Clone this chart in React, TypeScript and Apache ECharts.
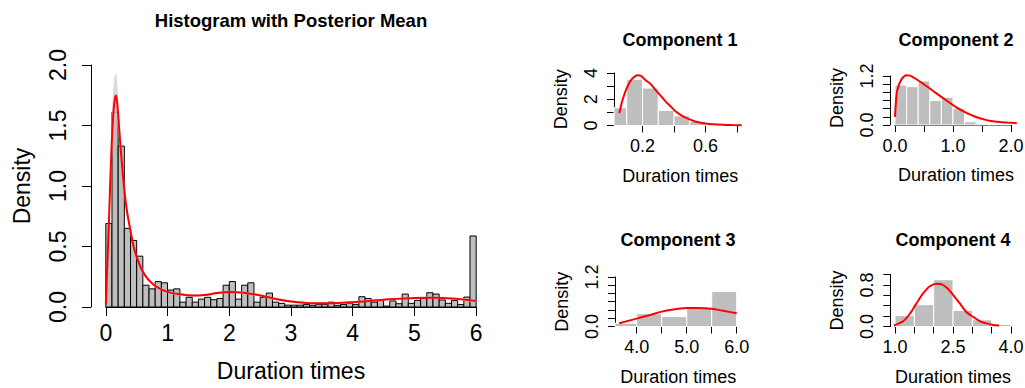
import React, { useEffect, useRef } from "react";
import * as echarts from "echarts";

const FONT = '"Liberation Sans", Arial, Helvetica, sans-serif';

// ---------- Main histogram data ----------
const mainBinStart = 0;
const mainBinWidth = 0.1;
const mainDensity = [
  0.69, 1.61, 1.33, 0.65, 0.55, 0.42, 0.18, 0.15, 0.21, 0.2,
  0.14, 0.15, 0.04, 0.08, 0.04, 0.065, 0.08, 0.06, 0.07, 0.18,
  0.21, 0.065, 0.18, 0.2, 0.04, 0.08, 0.115, 0.04, 0.03, 0.015,
  0.015, 0.015, 0.02, 0.014, 0.02, 0.02, 0.04, 0.014, 0.02, 0.03,
  0.02, 0.085, 0.07, 0.04, 0.055, 0.008, 0.05, 0.027, 0.107, 0.03,
  0.055, 0.07, 0.118, 0.107, 0.058, 0.03, 0.055, 0.02, 0.082, 0.587,
];
const meanX = [
  0, 0.025, 0.05, 0.08, 0.11, 0.14, 0.165, 0.19, 0.22, 0.25, 0.29, 0.34, 0.4,
  0.45, 0.51, 0.59, 0.7, 0.83, 1.0, 1.2, 1.4, 1.6, 1.8, 2.0, 2.2, 2.4, 2.6,
  2.8, 3.0, 3.3, 3.6, 4.0, 4.5, 5.0, 5.3, 5.6, 6.0,
];
const meanY = [
  0.02, 0.36, 0.7, 1.15, 1.5, 1.7, 1.75, 1.65, 1.45, 1.25, 1.02, 0.8, 0.63,
  0.5, 0.4, 0.3, 0.22, 0.165, 0.125, 0.105, 0.095, 0.1, 0.115, 0.125, 0.12,
  0.105, 0.085, 0.062, 0.045, 0.032, 0.03, 0.04, 0.06, 0.075, 0.076, 0.07, 0.05,
];
const bandHigh = [
  0.03, 0.42, 0.8, 1.3, 1.72, 1.9, 1.93, 1.82, 1.58, 1.35, 1.09, 0.86, 0.67,
  0.53, 0.42, 0.32, 0.235, 0.178, 0.135, 0.115, 0.105, 0.11, 0.125, 0.135,
  0.13, 0.115, 0.095, 0.072, 0.055, 0.041, 0.038, 0.048, 0.068, 0.083, 0.084,
  0.078, 0.06,
];
const bandLow = [
  0.01, 0.3, 0.6, 1.0, 1.3, 1.52, 1.58, 1.5, 1.34, 1.16, 0.96, 0.75, 0.59,
  0.47, 0.38, 0.28, 0.205, 0.152, 0.115, 0.095, 0.085, 0.09, 0.105, 0.115,
  0.11, 0.095, 0.075, 0.052, 0.035, 0.024, 0.022, 0.032, 0.052, 0.067, 0.068,
  0.062, 0.04,
];
const mainXTicks = [0, 1, 2, 3, 4, 5, 6];
const mainXLabels = [0, 1, 2, 3, 4, 5, 6];
const mainYTicks = [0, 0.5, 1.0, 1.5, 2.0];
const mainYLabels = [0, 0.5, 1.0, 1.5, 2.0];

// ---------- Component 1 ----------
const c1BinStart = 0;
const c1BinWidth = 0.1;
const c1Density = [1.35, 3.49, 2.85, 1.15, 0.74, 0.33, 0.1, 0.03, 0.01];
const c1X = [0.053, 0.07, 0.09, 0.11, 0.13, 0.15, 0.17, 0.19, 0.22, 0.25, 0.285, 0.32, 0.35, 0.385, 0.415, 0.45, 0.48, 0.54, 0.6, 0.65, 0.71, 0.77, 0.83];
const c1Y = [0.94, 1.8, 2.54, 3.1, 3.49, 3.72, 3.82, 3.78, 3.44, 3.18, 2.67, 2.2, 1.78, 1.38, 1.02, 0.75, 0.56, 0.28, 0.15, 0.09, 0.05, 0.03, 0.02];
const c1XTicks = [0.2, 0.4, 0.6, 0.8];
const c1XLabels = [0.2, 0.6];
const c1YTicks = [0, 1, 2, 3, 4];
const c1YLabels = [0, 2, 4];

// ---------- Component 2 ----------
const c2BinStart = 0;
const c2BinWidth = 0.2;
const c2Density = [0.98, 0.94, 1.08, 0.6, 0.68, 0.41, 0.08, 0.025, 0.01, 0.01];
const c2X = [0.0, 0.03, 0.06, 0.09, 0.14, 0.2, 0.26, 0.37, 0.54, 0.71, 0.89, 1.06, 1.24, 1.41, 1.58, 1.75, 1.93, 2.1];
const c2Y = [0.2, 0.78, 0.95, 1.06, 1.17, 1.22, 1.21, 1.12, 0.955, 0.78, 0.6, 0.43, 0.29, 0.19, 0.12, 0.08, 0.06, 0.045];
const c2XTicks = [0, 0.5, 1.0, 1.5, 2.0];
const c2XLabels = [0, 1.0, 2.0];
const c2YTicks = [0, 0.2, 0.4, 0.6, 0.8, 1.0, 1.2];
const c2YLabels = [0, 1.2];

// ---------- Component 3 ----------
const c3BinStart = 3.5;
const c3BinWidth = 0.5;
const c3Density = [0.08, 0.31, 0.24, 0.45, 0.85];
const c3X = [3.65, 4.0, 4.27, 4.5, 4.73, 5.0, 5.2, 5.5, 5.73, 6.0];
const c3Y = [0.08, 0.19, 0.28, 0.36, 0.41, 0.445, 0.45, 0.43, 0.38, 0.32];
const c3XTicks = [4.0, 4.5, 5.0, 5.5, 6.0];
const c3XLabels = [4.0, 5.0, 6.0];
const c3YTicks = [0, 0.2, 0.4, 0.6, 0.8, 1.0, 1.2];
const c3YLabels = [0, 1.2];

// ---------- Component 4 ----------
const c4BinStart = 1.0;
const c4BinWidth = 0.5;
const c4Density = [0.21, 0.42, 0.9, 0.31, 0.13, 0.04];
const c4X = [0.97, 1.21, 1.38, 1.55, 1.73, 1.9, 2.08, 2.21, 2.34, 2.51, 2.68, 2.85, 3.03, 3.2, 3.37, 3.55, 3.69];
const c4Y = [0.02, 0.1, 0.24, 0.44, 0.64, 0.775, 0.82, 0.81, 0.745, 0.6, 0.44, 0.275, 0.18, 0.1, 0.06, 0.03, 0.02];
const c4XTicks = [1.0, 1.5, 2.0, 2.5, 3.0, 3.5, 4.0];
const c4XLabels = [1.0, 2.5, 4.0];
const c4YTicks = [0, 0.2, 0.4, 0.6, 0.8, 1.0];
const c4YLabels = [0, 0.8];

const titles = ["Histogram with Posterior Mean", "Component 1", "Component 2", "Component 3", "Component 4"];
const xName = "Duration times";
const yName = "Density";

type PanelData = {
  binStart: number; binWidth: number; density: number[];
  curveX: number[]; curveY: number[];
  xTicks: number[]; xLabels: number[]; yTicks: number[]; yLabels: number[];
  xDigits: number; yDigits: number; title: string;
  band?: { low: number[]; high: number[] };
};
type Layout = {
  left: number; right: number; xMin: number; xMax: number;
  y0: number; yPerUnit: number; yTop: number;
  tickFont: number; nameFont: number; tickLen: number;
  xLabelMargin: number; yLabelMargin: number; xNameGap: number; yNameGap: number;
  titleX: number; titleY: number; titleFont: number;
  barFill: string; barStroke: string; lineWidth: number;
};

const mainLayout: Layout = {
  left: 91, right: 491, xMin: -0.24, xMax: 6.24, y0: 307, yPerUnit: 121, yTop: 2.0,
  tickFont: 23, nameFont: 23, tickLen: 9, xLabelMargin: 26, yLabelMargin: 33,
  xNameGap: 64, yNameGap: 69, titleX: 291, titleY: 20, titleFont: 18.5,
  barFill: "#bebebe", barStroke: "#000000", lineWidth: 2,
};
const compBase = {
  tickFont: 18, nameFont: 18, tickLen: 7, xLabelMargin: 20.5, yLabelMargin: 23,
  xNameGap: 50, yNameGap: 53, titleFont: 18, barFill: "#bebebe", barStroke: "#ffffff", lineWidth: 2,
};
const c1Layout: Layout = { ...compBase, left: 614, right: 746.6, xMin: 0.019, xMax: 0.861, y0: 125.5, yPerUnit: 13.15, yTop: 4, titleX: 680, titleY: 40 };
const c2Layout: Layout = { ...compBase, left: 890, right: 1022, xMin: -0.086, xMax: 2.19, y0: 125, yPerUnit: 40.83, yTop: 1.32, titleX: 956, titleY: 40 };
const c3Layout: Layout = { ...compBase, left: 615, right: 741.4, xMin: 3.567, xMax: 6.094, y0: 326.5, yPerUnit: 41.3, yTop: 1.2, titleX: 678, titleY: 240 };
const c4Layout: Layout = { ...compBase, left: 890.4, right: 1015.7, xMin: 0.88, xMax: 4.12, y0: 326.5, yPerUnit: 52, yTop: 1.0, titleX: 953, titleY: 240 };

function buildOption() {
  const grids: any[] = [];
  const xAxes: any[] = [];
  const yAxes: any[] = [];
  const series: any[] = [];
  const graphics: any[] = [];

  const addPanel = (L: Layout, d: PanelData) => {
    const pxX = (v: number) => L.left + ((v - L.xMin) / (L.xMax - L.xMin)) * (L.right - L.left);
    const pxY = (v: number) => L.y0 - v * L.yPerUnit;
    const g = grids.length;
    const top = pxY(L.yTop);
    const h = L.yTop * L.yPerUnit;
    grids.push({ left: L.left, top, width: L.right - L.left, height: h, outerBoundsMode: "none" });
    const xa = pxX(d.xTicks[0]);
    const xb = pxX(d.xTicks[d.xTicks.length - 1]);
    grids.push({ left: xa, top, width: xb - xa, height: h, outerBoundsMode: "none" });
    const yTopTick = d.yTicks[d.yTicks.length - 1];
    grids.push({ left: L.left, top: pxY(yTopTick), width: L.right - L.left, height: yTopTick * L.yPerUnit, outerBoundsMode: "none" });

    const xi = xAxes.length;
    const yi = yAxes.length;
    const nameStyle = { fontFamily: FONT, fontSize: L.nameFont, color: "#000", align: "center", verticalAlign: "middle" };
    xAxes.push({
      type: "value", gridIndex: g, min: L.xMin, max: L.xMax,
      axisLine: { show: false }, axisTick: { show: false }, axisLabel: { show: false }, splitLine: { show: false },
      name: xName, nameLocation: "middle", nameGap: L.xNameGap, nameTextStyle: nameStyle,
    });
    yAxes.push({
      type: "value", gridIndex: g, min: 0, max: L.yTop,
      axisLine: { show: false }, axisTick: { show: false }, axisLabel: { show: false }, splitLine: { show: false },
      name: yName, nameLocation: "middle", nameGap: L.yNameGap, nameTextStyle: nameStyle,
    });
    const near = (v: number, arr: number[]) => arr.some((a) => Math.abs(a - v) < 1e-6);
    xAxes.push({
      type: "value", gridIndex: g + 1, position: "bottom",
      min: d.xTicks[0], max: d.xTicks[d.xTicks.length - 1], interval: d.xTicks[1] - d.xTicks[0],
      axisLine: { show: true, onZero: false, lineStyle: { color: "#000", width: 1 } },
      axisTick: { show: true, length: L.tickLen, lineStyle: { color: "#000", width: 1 } },
      axisLabel: {
        show: true, margin: L.xLabelMargin, fontFamily: FONT, fontSize: L.tickFont, color: "#000",
        verticalAlign: "middle", align: "center", showMinLabel: true, showMaxLabel: true,
        formatter: (v: number) => (near(v, d.xLabels) ? v.toFixed(d.xDigits) : ""),
      },
      splitLine: { show: false },
    });
    yAxes.push({ type: "value", gridIndex: g + 1, min: 0, max: 1, show: false });
    xAxes.push({ type: "value", gridIndex: g + 2, min: 0, max: 1, show: false });
    yAxes.push({
      type: "value", gridIndex: g + 2, position: "left",
      min: d.yTicks[0], max: yTopTick, interval: d.yTicks[1] - d.yTicks[0],
      axisLine: { show: true, onZero: false, lineStyle: { color: "#000", width: 1 } },
      axisTick: { show: true, length: L.tickLen, lineStyle: { color: "#000", width: 1 } },
      axisLabel: {
        show: true, margin: L.yLabelMargin, rotate: 90, fontFamily: FONT, fontSize: L.tickFont, color: "#000",
        align: "center", verticalAlign: "middle", showMinLabel: true, showMaxLabel: true,
        formatter: (v: number) => (near(v, d.yLabels) ? v.toFixed(d.yDigits) : ""),
      },
      splitLine: { show: false },
    });

    // histogram bars
    series.push({
      type: "custom", xAxisIndex: xi, yAxisIndex: yi, silent: true, z: 2,
      data: d.density.map((v, i) => [d.binStart + i * d.binWidth, d.binStart + (i + 1) * d.binWidth, v]),
      encode: { x: [0, 1], y: 2 },
      renderItem: (params: any, api: any) => {
        const p0 = api.coord([api.value(0), api.value(2)]);
        const p1 = api.coord([api.value(1), 0]);
        const cs = params.coordSys;
        const shape = echarts.graphic.clipRectByRect(
          { x: p0[0], y: p0[1], width: p1[0] - p0[0], height: p1[1] - p0[1] },
          { x: cs.x, y: cs.y, width: cs.width, height: cs.height }
        );
        if (!shape) return null;
        return { type: "rect", shape, style: { fill: L.barFill, stroke: L.barStroke, lineWidth: 1 } };
      },
    });
    if (d.band) {
      const band = d.band;
      series.push({
        type: "custom", xAxisIndex: xi, yAxisIndex: yi, silent: true, z: 3,
        data: [[d.curveX[0], band.low[0]]],
        renderItem: (_params: any, api: any) => {
          const upper = d.curveX.map((x, i) => api.coord([x, band.high[i]]));
          const lower = d.curveX.map((x, i) => api.coord([x, band.low[i]])).reverse();
          return {
            type: "polygon",
            shape: { points: upper.concat(lower), smooth: 0.25 },
            style: { fill: "rgba(205,205,205,0.75)", stroke: "none" },
          };
        },
      });
    }
    series.push({
      type: "line", xAxisIndex: xi, yAxisIndex: yi, symbol: "none", silent: true, z: 4,
      smooth: 0.3, lineStyle: { color: "#ff0000", width: L.lineWidth },
      data: d.curveX.map((x, i) => [x, d.curveY[i]]),
    });

    graphics.push({
      type: "text", x: L.titleX, y: L.titleY, silent: true,
      style: {
        text: d.title, fill: "#000", fontFamily: FONT, fontWeight: "bold", fontSize: L.titleFont,
        align: "center", verticalAlign: "middle",
      },
    });
  };

  addPanel(mainLayout, {
    binStart: mainBinStart, binWidth: mainBinWidth, density: mainDensity,
    curveX: meanX, curveY: meanY, band: { low: bandLow, high: bandHigh },
    xTicks: mainXTicks, xLabels: mainXLabels, yTicks: mainYTicks, yLabels: mainYLabels,
    xDigits: 0, yDigits: 1, title: titles[0],
  });
  addPanel(c1Layout, {
    binStart: c1BinStart, binWidth: c1BinWidth, density: c1Density, curveX: c1X, curveY: c1Y,
    xTicks: c1XTicks, xLabels: c1XLabels, yTicks: c1YTicks, yLabels: c1YLabels, xDigits: 1, yDigits: 0, title: titles[1],
  });
  addPanel(c2Layout, {
    binStart: c2BinStart, binWidth: c2BinWidth, density: c2Density, curveX: c2X, curveY: c2Y,
    xTicks: c2XTicks, xLabels: c2XLabels, yTicks: c2YTicks, yLabels: c2YLabels, xDigits: 1, yDigits: 1, title: titles[2],
  });
  addPanel(c3Layout, {
    binStart: c3BinStart, binWidth: c3BinWidth, density: c3Density, curveX: c3X, curveY: c3Y,
    xTicks: c3XTicks, xLabels: c3XLabels, yTicks: c3YTicks, yLabels: c3YLabels, xDigits: 1, yDigits: 1, title: titles[3],
  });
  addPanel(c4Layout, {
    binStart: c4BinStart, binWidth: c4BinWidth, density: c4Density, curveX: c4X, curveY: c4Y,
    xTicks: c4XTicks, xLabels: c4XLabels, yTicks: c4YTicks, yLabels: c4YLabels, xDigits: 1, yDigits: 1, title: titles[4],
  });

  return {
    animation: false,
    backgroundColor: "#ffffff",
    grid: grids,
    xAxis: xAxes,
    yAxis: yAxes,
    series,
    graphic: graphics,
  };
}

export default function App() {
  const ref = useRef<HTMLDivElement>(null);
  useEffect(() => {
    if (!ref.current) return;
    const chart = echarts.init(ref.current, null, { renderer: "svg" });
    chart.setOption(buildOption() as any);
    return () => chart.dispose();
  }, []);
  return (
    <div
      ref={ref}
      style={{ position: "fixed", left: 0, top: 0, width: 1025, height: 388, background: "#fff" }}
    />
  );
}
